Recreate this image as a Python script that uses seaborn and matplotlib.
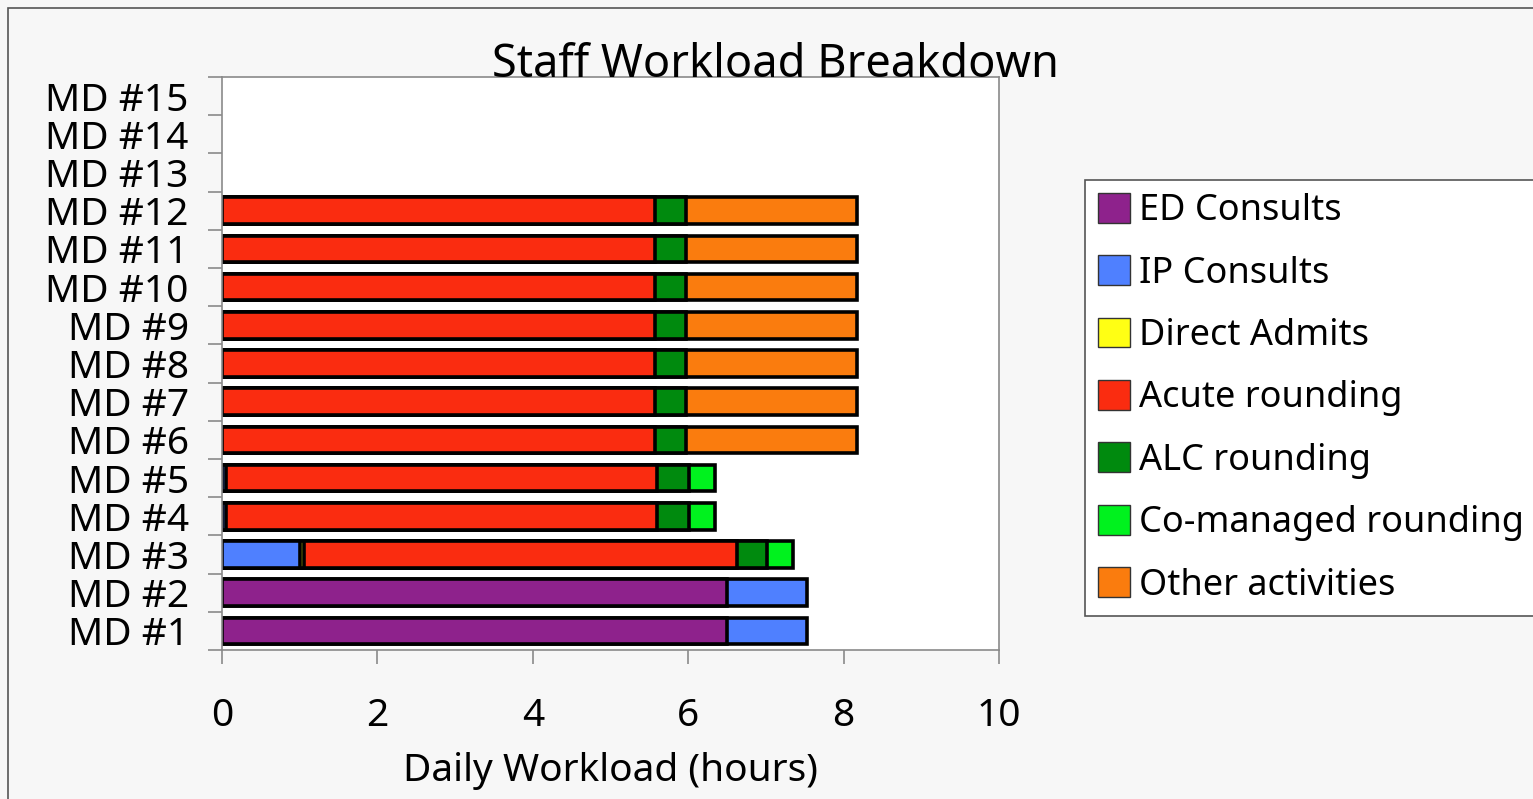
import numpy as np
import pandas as pd
import matplotlib
matplotlib.use("Agg")
import matplotlib.pyplot as plt
from matplotlib.patches import Patch, Rectangle
from matplotlib.ticker import MultipleLocator, FixedLocator
import seaborn as sns

# staff, bottom row first
staff = [f"MD #{i}" for i in range(1, 16)]

ed_consults = [6.5, 6.5, 0, 0, 0, 0, 0, 0, 0, 0, 0, 0, 0, 0, 0]
ip_consults = [1.03, 1.03, 1.0, 0.05, 0.05, 0, 0, 0, 0, 0, 0, 0, 0, 0, 0]
direct_admits = [0, 0, 0.05, 0, 0, 0, 0, 0, 0, 0, 0, 0, 0, 0, 0]
acute_rounding = [0, 0, 5.58, 5.55, 5.55, 5.57, 5.57, 5.57, 5.57, 5.57, 5.57, 5.57, 0, 0, 0]
alc_rounding = [0, 0, 0.38, 0.41, 0.41, 0.4, 0.4, 0.4, 0.4, 0.4, 0.4, 0.4, 0, 0, 0]
comanaged_rounding = [0, 0, 0.34, 0.34, 0.34, 0, 0, 0, 0, 0, 0, 0, 0, 0, 0]
other_activities = [0, 0, 0, 0, 0, 2.2, 2.2, 2.2, 2.2, 2.2, 2.2, 2.2, 0, 0, 0]

activities = ["ED Consults", "IP Consults", "Direct Admits", "Acute rounding",
              "ALC rounding", "Co-managed rounding", "Other activities"]
colors = ["#8e228c", "#4f80ff", "#ffff14", "#fa2c10", "#008a0e", "#00f21e", "#fa7c0e"]

df = pd.DataFrame({
    "staff": staff,
    "ED Consults": ed_consults,
    "IP Consults": ip_consults,
    "Direct Admits": direct_admits,
    "Acute rounding": acute_rounding,
    "ALC rounding": alc_rounding,
    "Co-managed rounding": comanaged_rounding,
    "Other activities": other_activities,
})

# running totals so each segment can be drawn as a bar from zero
cum = df[activities].cumsum(axis=1)
cum = cum.where(df[activities] > 0)
cum["staff"] = df["staff"]

order = staff[::-1]

sns.set_style("white")
plt.rcParams["font.family"] = ["Noto Sans", "DejaVu Sans"]
plt.rcParams["text.color"] = "black"
plt.rcParams["axes.labelcolor"] = "black"

fig = plt.figure(figsize=(15.33, 7.99), dpi=100, facecolor="#f7f7f7")
ax = fig.add_axes([222 / 1533, 1 - 650 / 799, 777 / 1533, 573 / 799])
ax.set_facecolor("white")

for act, col in reversed(list(zip(activities, colors))):
    sns.barplot(data=cum, x=act, y="staff", order=order, color=col,
                edgecolor="black", linewidth=2.6, width=0.7, orient="h",
                saturation=1, ax=ax)

ax.set_xlim(0, 10)
ax.set_ylim(14.5, -0.5)
ax.xaxis.set_major_locator(MultipleLocator(2))
ax.set_xlabel("Daily Workload (hours)", fontsize=28, labelpad=12, color="black")
ax.set_ylabel("")

for side in ["left", "right", "top", "bottom"]:
    ax.spines[side].set_visible(True)
    ax.spines[side].set_color("#8a8a8a")
    ax.spines[side].set_linewidth(1.2)

ax.tick_params(axis="x", which="major", direction="out", length=10, width=1.2,
               color="#8a8a8a", labelcolor="black", labelsize=28, pad=24, bottom=True)
ax.tick_params(axis="y", which="major", length=0, labelsize=28, pad=24,
               labelcolor="black")
ax.yaxis.set_minor_locator(FixedLocator(np.arange(-0.5, 15, 1)))
ax.tick_params(axis="y", which="minor", direction="out", length=10, width=1.2,
               color="#8a8a8a", left=True)

fig.text(775 / 1533, 1 - 65 / 799, "Staff Workload Breakdown", fontsize=32.5,
         ha="center", va="center", color="black")

handles = [Patch(facecolor=c, edgecolor="#333333", linewidth=1) for c in colors]
leg = fig.legend(handles, activities, loc="upper left",
                 bbox_to_anchor=(1085 / 1533, 1 - 180 / 799), fontsize=26,
                 frameon=True, fancybox=False, framealpha=1,
                 handlelength=0.9, handleheight=0.9, handletextpad=0.25,
                 labelspacing=0.72, borderpad=0.35, borderaxespad=0)
leg.get_frame().set_edgecolor("#555555")
leg.get_frame().set_linewidth(1.2)
for t in leg.get_texts():
    t.set_color("black")

fig.patches.append(Rectangle((8 / 1533, -0.1), 1.1, 1 - 8 / 799 + 0.1,
                             transform=fig.transFigure, fill=False,
                             edgecolor="#555555", linewidth=1.2))

fig.savefig("out.png", dpi=100, facecolor=fig.get_facecolor())
